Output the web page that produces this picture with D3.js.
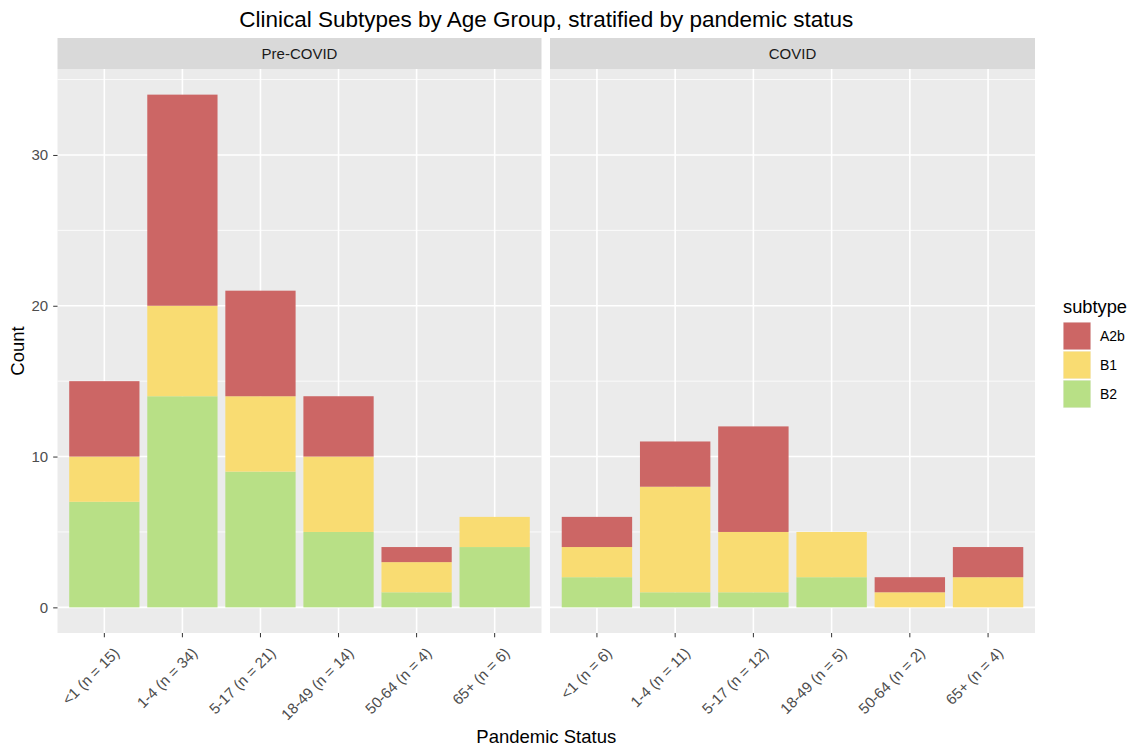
<!DOCTYPE html>
<html>
<head>
<meta charset="utf-8">
<script src="https://cdn.jsdelivr.net/npm/d3@7"></script>
<style>
  body { margin: 0; background: #fff; }
  text { font-family: "Liberation Sans", Arial, sans-serif; }
</style>
</head>
<body>
<svg id="chart" width="1133" height="753"></svg>
<script>
// data
let ageGroups = ['<1', '1-4', '5-17', '18-49', '50-64', '65+'];
let periods = ['Pre-COVID', 'COVID'];
let subtypes = ['A2b', 'B1', 'B2'];
let stackOrder = ['B2', 'B1', 'A2b']; // bottom to top
let preA2b = [5, 14, 7, 4, 1, 0];
let preB1 = [3, 6, 5, 5, 2, 2];
let preB2 = [7, 14, 9, 5, 1, 4];
let covA2b = [2, 3, 7, 0, 1, 2];
let covB1 = [2, 7, 4, 3, 1, 2];
let covB2 = [2, 1, 1, 2, 0, 0];
let yTicks = [0, 10, 20, 30];
let yMinor = [5, 15, 25, 35];
let colors = {A2b: '#CC6665', B1: '#F9DC72', B2: '#B8E086'};

let series = {
  'Pre-COVID': {A2b: preA2b, B1: preB1, B2: preB2},
  'COVID': {A2b: covA2b, B1: covB1, B2: covB2}
};

let svgWidth = 1133, svgHeight = 753;
let panelTop = 69, panelBottom = 633;
let stripTop = 38;
let panelX = {'Pre-COVID': [57.5, 541.5], 'COVID': [550, 1035]};

let svg = d3.select('#chart');

let yScale = d3.scaleLinear().domain([-1.7, 35.7]).range([panelBottom, panelTop]);

function tableFor(period) {
  let s = series[period];
  return ageGroups.map((g, i) => {
    let row = {group: g};
    subtypes.forEach(k => row[k] = s[k][i]);
    row.n = subtypes.reduce((a, k) => a + s[k][i], 0);
    row.label = `${g} (n = ${row.n})`;
    return row;
  });
}

let stack = d3.stack().keys(stackOrder);

periods.forEach(period => {
  let [x0, x1] = panelX[period];
  let rows = tableFor(period);
  let xScale = d3.scaleBand().domain(rows.map(d => d.label)).range([x0, x1])
                 .paddingInner(0.1).paddingOuter(0.15);
  let mid = d => xScale(d) + xScale.bandwidth() / 2;

  let g = svg.append('g').attr('class', 'panel');

  g.append('rect')
    .attr('x', x0).attr('y', panelTop)
    .attr('width', x1 - x0).attr('height', panelBottom - panelTop)
    .attr('fill', '#EBEBEB');

  // grid
  g.selectAll('line.minor').data(yMinor).enter().append('line')
    .attr('x1', x0).attr('x2', x1)
    .attr('y1', d => yScale(d)).attr('y2', d => yScale(d))
    .attr('stroke', '#fff').attr('stroke-width', 0.8);
  g.selectAll('line.major').data(yTicks).enter().append('line')
    .attr('x1', x0).attr('x2', x1)
    .attr('y1', d => yScale(d)).attr('y2', d => yScale(d))
    .attr('stroke', '#fff').attr('stroke-width', 1.6);
  g.selectAll('line.vgrid').data(xScale.domain()).enter().append('line')
    .attr('x1', mid).attr('x2', mid)
    .attr('y1', panelTop).attr('y2', panelBottom)
    .attr('stroke', '#fff').attr('stroke-width', 1.6);

  // bars
  g.selectAll('g.layer').data(stack(rows)).enter().append('g')
    .attr('fill', d => colors[d.key])
    .selectAll('rect').data(d => d).enter().append('rect')
    .attr('x', d => xScale(d.data.label))
    .attr('width', xScale.bandwidth())
    .attr('y', d => yScale(d[1]))
    .attr('height', d => yScale(d[0]) - yScale(d[1]));

  // strip
  g.append('rect')
    .attr('x', x0).attr('y', stripTop)
    .attr('width', x1 - x0).attr('height', panelTop - stripTop)
    .attr('fill', '#D9D9D9');
  g.append('text')
    .attr('x', (x0 + x1) / 2).attr('y', (stripTop + panelTop) / 2)
    .attr('dy', '0.35em')
    .attr('text-anchor', 'middle')
    .attr('font-size', 15).attr('fill', '#1A1A1A')
    .text(period);

  // x axis
  let xAxis = g.append('g')
    .attr('transform', `translate(0,${panelBottom})`)
    .call(d3.axisBottom(xScale).tickSize(4.3).tickSizeOuter(0));
  xAxis.select('.domain').remove();
  xAxis.selectAll('line').attr('stroke', '#333');
  xAxis.selectAll('text')
    .attr('font-size', 15).attr('fill', '#4D4D4D')
    .attr('font-family', '"Liberation Sans", Arial, sans-serif')
    .attr('text-anchor', 'end')
    .attr('y', 0).attr('dy', '0.75em')
    .attr('transform', 'translate(8,13) rotate(-45)');
});

// y axis (left panel only)
let yAxis = svg.append('g')
  .attr('transform', `translate(${panelX['Pre-COVID'][0]},0)`)
  .call(d3.axisLeft(yScale).tickValues(yTicks).tickSize(4.3).tickPadding(5));
yAxis.select('.domain').remove();
yAxis.selectAll('line').attr('stroke', '#333');
yAxis.selectAll('text')
  .attr('font-size', 15).attr('fill', '#4D4D4D')
  .attr('font-family', '"Liberation Sans", Arial, sans-serif');

let plotMid = (panelX['Pre-COVID'][0] + panelX['COVID'][1]) / 2;

// title
svg.append('text')
  .attr('x', plotMid).attr('y', 27)
  .attr('text-anchor', 'middle')
  .attr('font-size', 22.5).attr('fill', '#000')
  .text('Clinical Subtypes by Age Group, stratified by pandemic status');

svg.append('text')
  .attr('x', plotMid).attr('y', 743)
  .attr('text-anchor', 'middle')
  .attr('font-size', 18.5).attr('fill', '#000')
  .text('Pandemic Status');

svg.append('text')
  .attr('transform', `translate(24,${(panelTop + panelBottom) / 2}) rotate(-90)`)
  .attr('text-anchor', 'middle')
  .attr('font-size', 18.5).attr('fill', '#000')
  .text('Count');

// legend
let legend = svg.append('g').attr('transform', 'translate(1063,0)');
legend.append('text')
  .attr('x', 0).attr('y', 313)
  .attr('font-size', 18.3).attr('fill', '#000')
  .text('subtype');
let keys = legend.selectAll('g.key').data(subtypes).enter().append('g')
  .attr('transform', (d, i) => `translate(0,${322 + i * 29})`);
keys.append('rect')
  .attr('width', 28).attr('height', 28)
  .attr('fill', '#F2F2F2');
keys.append('rect')
  .attr('x', 0.5).attr('y', 0.5)
  .attr('width', 27).attr('height', 27)
  .attr('fill', d => colors[d]);
keys.append('text')
  .attr('x', 37).attr('y', 14).attr('dy', '0.35em')
  .attr('font-size', 14).attr('fill', '#000')
  .text(d => d);
</script>
</body>
</html>
